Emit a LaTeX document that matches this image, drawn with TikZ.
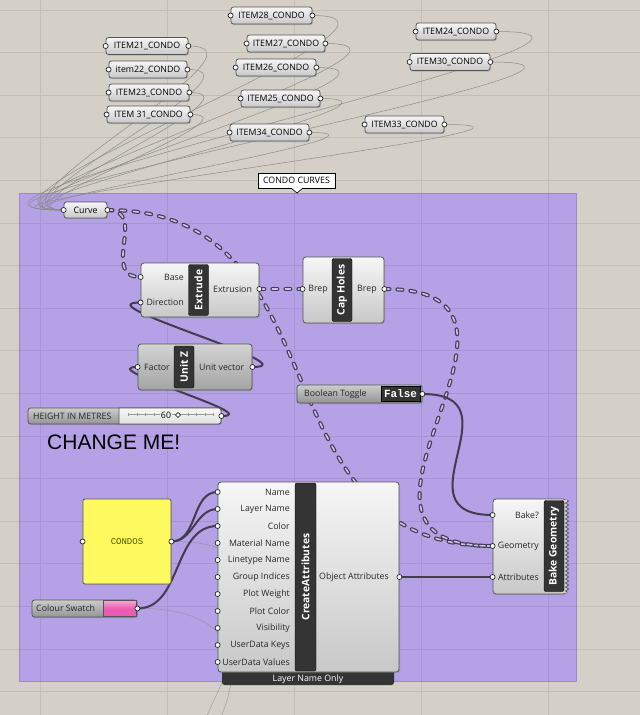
\documentclass[tikz,border=0pt]{standalone}
\usepackage{fontspec}
\setmainfont{Open Sans}
\newfontfamily\arialfont{Liberation Sans}
\newfontfamily\monofont{Liberation Mono}
\usetikzlibrary{positioning,shadows,decorations.pathmorphing}
\definecolor{paper}{RGB}{212,208,200}
\definecolor{grp}{RGB}{181,161,229}
\definecolor{grpedge}{RGB}{155,136,210}
\definecolor{wire}{RGB}{66,60,78}
\definecolor{wirein}{RGB}{205,192,240}
\definecolor{rim}{RGB}{85,85,88}
\definecolor{stripcol}{RGB}{52,52,52}
\definecolor{pale}{RGB}{246,246,246}
\definecolor{dull}{RGB}{200,200,200}
\definecolor{panelcol}{RGB}{255,249,96}
\definecolor{olivetext}{RGB}{70,95,0}
\definecolor{swatchcol}{RGB}{236,92,178}
\pgfdeclarelayer{back}
\pgfdeclarelayer{wires}
\pgfsetlayers{back,wires,main}
\begin{document}
\begin{tikzpicture}[
x=1pt,y=-1pt,
small/.style={font=\fontsize{8.8}{10}\selectfont},
param/.style={draw=rim,line width=0.8pt,rounded corners=2.5pt,top color=pale,bottom color=dull,minimum height=17pt,inner sep=2pt,small,drop shadow={shadow xshift=1pt,shadow yshift=-1.2pt,opacity=.35}},
body/.style={param,rounded corners=3pt},
darkbody/.style={body,top color=black!17,bottom color=black!36},
dark/.style={param,top color=black!20,bottom color=black!42},
strip/.style={fill=stripcol,draw=black,rounded corners=2pt,text=white,rotate=90,font=\bfseries\fontsize{10.3}{11}\selectfont,minimum height=20pt,inner sep=0pt},
grip/.style={circle,draw=black!85,fill=white,line width=0.7pt,inner sep=0pt,minimum size=5pt},
inlab/.style={anchor=east,small,inner sep=0pt,text=black!85},
outlab/.style={anchor=west,small,inner sep=0pt,text=black!85},
line/.style={draw=wire,line width=2pt},
list/.style={draw=wire,line width=1.2pt,double=wirein,double distance=1.6pt,dash pattern=on 5pt off 8pt,line cap=round},
thread/.style={draw=black!45,line width=0.5pt},
faint/.style={draw=black!45,line width=0.5pt,opacity=.7}
]

\useasboundingbox (0,0) rectangle (640,715);

%canvas and group
\begin{pgfonlayer}{back}
\fill[paper] (0,0) rectangle (640,715);
\path[draw=grpedge,fill=grp,line width=0.8pt] (19,193) rectangle (576,681);
\begin{scope}[shift={(40,10)}]
\draw[black,opacity=.08,line width=0.8pt,xstep=127pt,ystep=42.6pt] (-40,-10) grid (600,705);
\end{scope}
\end{pgfonlayer}

\node[draw=black,fill=white,line width=0.6pt,minimum width=77pt,minimum height=15pt,inner sep=0pt,small] (tag) at (296.5,180.5) {CONDO CURVES};
\path[fill=white] (291,187.4) -- (297,193) -- (303,187.4) -- cycle;
\draw[line width=0.6pt] (291,188) -- (297,193) -- (303,188);

%items
\node[param,minimum width=81pt] (i28) at (271.5,15.5) {ITEM28\_CONDO};
\node[param,minimum width=78pt] (i27) at (286,43.5) {ITEM27\_CONDO};
\node[param,minimum width=82pt] (i21) at (147,46) {ITEM21\_CONDO};
\node[param,minimum width=78pt] (i22) at (148,69.5) {item22\_CONDO};
\node[param,minimum width=80pt] (i26) at (276,67.5) {ITEM26\_CONDO};
\node[param,minimum width=80pt] (i23) at (149,92.5) {ITEM23\_CONDO};
\node[param,minimum width=83pt] (i31) at (148.5,114.5) {ITEM 31\_CONDO};
\node[param,minimum width=79pt] (i25) at (280.5,98.5) {ITEM25\_CONDO};
\node[param,minimum width=79pt] (i34) at (269.5,132.5) {ITEM34\_CONDO};
\node[param,minimum width=79pt] (i33) at (404.5,124.5) {ITEM33\_CONDO};
\node[param,minimum width=80pt] (i24) at (456,31.5) {ITEM24\_CONDO};
\node[param,minimum width=80pt] (i30) at (450,62) {ITEM30\_CONDO};
	\node[grip] (i28a) at (i28.west) {}; \node[grip] (i28b) at (i28.east) {};
	\node[grip] (i27a) at (i27.west) {}; \node[grip] (i27b) at (i27.east) {};
	\node[grip] (i21a) at (i21.west) {}; \node[grip] (i21b) at (i21.east) {};
	\node[grip] (i22a) at (i22.west) {}; \node[grip] (i22b) at (i22.east) {};
	\node[grip] (i26a) at (i26.west) {}; \node[grip] (i26b) at (i26.east) {};
	\node[grip] (i23a) at (i23.west) {}; \node[grip] (i23b) at (i23.east) {};
	\node[grip] (i31a) at (i31.west) {}; \node[grip] (i31b) at (i31.east) {};
	\node[grip] (i25a) at (i25.west) {}; \node[grip] (i25b) at (i25.east) {};
	\node[grip] (i34a) at (i34.west) {}; \node[grip] (i34b) at (i34.east) {};
	\node[grip] (i33a) at (i33.west) {}; \node[grip] (i33b) at (i33.east) {};
	\node[grip] (i24a) at (i24.west) {}; \node[grip] (i24b) at (i24.east) {};
	\node[grip] (i30a) at (i30.west) {}; \node[grip] (i30b) at (i30.east) {};

%curve
\node[param,minimum width=43pt,minimum height=16pt] (cv) at (85.5,210) {Curve};
	\node[grip] (cvin) at (cv.west) {};
	\node[grip] (cvout) at (cv.east) {};

%extrude
\node[body,minimum width=118pt,minimum height=54pt] (ex) at (200,290) {};
	\node[strip,minimum width=51pt] (exs) at (198.5,290) {Extrude};
	\node[inlab] (exbl) at (184,277) {Base};
	\node[inlab] (exdl) at (184,302.5) {Direction};
	\node[outlab] (exol) at (213,289) {Extrusion};
	\node[grip] (exbase) at (ex.west |- exbl) {};
	\node[grip] (exdir) at (ex.west |- exdl) {};
	\node[grip] (exout) at (ex.east |- exol) {};

%cap holes
\node[body,minimum width=81pt,minimum height=66pt] (ch) at (343.5,290) {};
	\node[strip,minimum width=63pt] (chs) at (342,290) {Cap Holes};
	\node[inlab] (chil) at (328,289) {Brep};
	\node[outlab] (chol) at (357,289) {Brep};
	\node[grip] (chin) at (ch.west |- chil) {};
	\node[grip] (chout) at (ch.east |- chol) {};

%unit z
\node[darkbody,minimum width=114pt,minimum height=46pt] (uz) at (195,367) {};
	\node[strip,minimum width=42pt] (uzs) at (184,367) {Unit Z};
	\node[inlab] (uzfl) at (170,367) {Factor};
	\node[outlab] (uzol) at (199,367) {Unit vector};
	\node[grip] (uzin) at (uz.west |- uzfl) {};
	\node[grip] (uzout) at (uz.east |- uzol) {};

%slider
\node[dark,minimum width=193pt,minimum height=16pt] (sl) at (124.5,416) {};
\path[draw=rim,line width=0.8pt,top color=pale,bottom color=black!12] (119,408) [rounded corners=2.5pt] -- (221,408) -- (221,424) [sharp corners] -- (119,424) -- cycle;
\path[draw=black!40,line width=0.5pt] (128,414.5) -- (214,414.5);
\path[draw=black!40,line width=3pt,dash pattern=on 0.5pt off 8pt] (128,414.5) -- (214,414.5);
	\node[small,anchor=west,inner sep=0pt,text=black!85] (sllab) at (33,416) {HEIGHT IN METRES};
	\node[small,fill=black!7,inner sep=1pt] (slval) at (166,415) {60};
	\path[draw=black,fill=white,line width=0.6pt] (175.5,415) -- (178,412.5) -- (180.5,415) -- (178,417.5) -- cycle;
	\node[grip] (slout) at (sl.east) {};

\node[font=\arialfont\fontsize{21}{24}\selectfont,anchor=base west,inner sep=0pt] (chg) at (47,449) {CHANGE ME!};

%toggle
\node[dark,minimum width=125pt,minimum height=18pt] (bt) at (359.5,394) {};
	\node[small,anchor=west,inner sep=0pt,text=black!85] (btl) at (304,394) {Boolean Toggle};
	\node[fill=stripcol,draw=black,minimum width=39pt,minimum height=15pt,inner sep=0pt,text=white,font=\monofont\bfseries\fontsize{11}{12}\selectfont] (btv) at (400.5,394) {False};
	\node[grip] (btout) at (bt.east) {};

%panel and swatch
\node[draw=rim,line width=0.8pt,fill=panelcol,rounded corners=2pt,minimum width=88pt,minimum height=85pt,text=olivetext,font=\monofont\fontsize{9}{10}\selectfont,drop shadow={shadow xshift=1pt,shadow yshift=-1.2pt,opacity=.35}] (cd) at (127,541.5) {CONDOS};
	\node[grip] (cdin) at (cd.west) {};
	\node[grip] (cdout) at (cd.east) {};
\node[dark,minimum width=105pt,minimum height=17pt] (cs) at (84.5,608.5) {};
	\node[small,anchor=west,inner sep=0pt,text=black!85] (csl) at (36,608.5) {Colour Swatch};
	\node[draw=rim,line width=0.6pt,top color=swatchcol!55!white,bottom color=swatchcol,middle color=swatchcol,minimum width=33pt,minimum height=15.5pt,inner sep=0pt] (csv) at (119.5,608.5) {};
	\node[grip] (csout) at (cs.east) {};

%create attributes
\node[fill=stripcol,rounded corners=2.5pt,minimum width=172pt,minimum height=20pt] (catab) at (308,675) {};
\node[body,minimum width=181pt,minimum height=190pt] (ca) at (308.5,577) {};
	\node[text=white,small,inner sep=0pt] (catabl) at (308,679.5) {Layer Name Only};
	\node[strip,minimum width=188pt,minimum height=21pt] (cas) at (305.5,577) {CreateAttributes};
	\node[inlab] (ca1) at (290,492) {Name};
	\node[inlab] (ca2) at (290,509) {Layer Name};
	\node[inlab] (ca3) at (290,526) {Color};
	\node[inlab] (ca4) at (290,543) {Material Name};
	\node[inlab] (ca5) at (290,560) {Linetype Name};
	\node[inlab] (ca6) at (290,577) {Group Indices};
	\node[inlab] (ca7) at (290,594) {Plot Weight};
	\node[inlab] (ca8) at (290,611) {Plot Color};
	\node[inlab] (ca9) at (290,628) {Visibility};
	\node[inlab] (ca10) at (290,645) {UserData Keys};
	\node[inlab] (ca11) at (290,662) {UserData Values};
	\node[outlab] (caol) at (319,577) {Object Attributes};
	\node[grip] (caname) at (ca.west |- ca1) {};
	\node[grip] (calayer) at (ca.west |- ca2) {};
	\node[grip] (cacolor) at (ca.west |- ca3) {};
	\node[grip] (camat) at (ca.west |- ca4) {};
	\node[grip] (caline) at (ca.west |- ca5) {};
	\node[grip] (cagroup) at (ca.west |- ca6) {};
	\node[grip] (caweight) at (ca.west |- ca7) {};
	\node[grip] (caplot) at (ca.west |- ca8) {};
	\node[grip] (cavis) at (ca.west |- ca9) {};
	\node[grip] (cakeys) at (ca.west |- ca10) {};
	\node[grip] (cavals) at (ca.west |- ca11) {};
	\node[grip] (caout) at (ca.east |- caol) {};

%bake
\node[body,minimum width=73pt,minimum height=95pt] (bk) at (529.5,546.5) {};
\path[fill=black!17,decoration={zigzag,segment length=4pt,amplitude=1.6pt}] (561,500) -- (567,500) decorate {-- (567,593)} -- (561,593) -- cycle;
\path[draw=rim,line width=0.7pt,decoration={zigzag,segment length=4pt,amplitude=1.6pt}] (567,500) decorate {-- (567,593)};
	\node[strip,minimum width=91pt] (bks) at (554,546) {Bake Geometry};
	\node[inlab] (bkl1) at (539,515) {Bake?};
	\node[inlab] (bkl2) at (539,546) {Geometry};
	\node[inlab] (bkl3) at (539,577) {Attributes};
	\node[grip] (bkbake) at (bk.west |- bkl1) {};
	\node[grip] (bkgeo) at (bk.west |- bkl2) {};
	\node[grip] (bkattr) at (bk.west |- bkl3) {};

\coordinate (offa) at (196,740);
\coordinate (offb) at (206,745);

%wires
\begin{pgfonlayer}{wires}
\path[thread] (i28b.center) to[out=0,in=180,looseness=1.2] (cvin.center);
\path[thread] (i27b.center) to[out=0,in=180,looseness=1.2] (cvin.center);
\path[thread] (i21b.center) to[out=0,in=180,looseness=1.2] (cvin.center);
\path[thread] (i22b.center) to[out=0,in=180,looseness=1.2] (cvin.center);
\path[thread] (i26b.center) to[out=0,in=180,looseness=1.2] (cvin.center);
\path[thread] (i23b.center) to[out=0,in=180,looseness=1.2] (cvin.center);
\path[thread] (i31b.center) to[out=0,in=180,looseness=1.2] (cvin.center);
\path[thread] (i25b.center) to[out=0,in=180,looseness=1.2] (cvin.center);
\path[thread] (i34b.center) to[out=0,in=180,looseness=1.2] (cvin.center);
\path[thread] (i33b.center) to[out=0,in=180,looseness=1.2] (cvin.center);
\path[thread] (i24b.center) to[out=0,in=180,looseness=1.2] (cvin.center);
\path[thread] (i30b.center) to[out=0,in=180,looseness=1.2] (cvin.center);

\path[faint] (cdout.center) .. controls (300,541) and (240,640) .. (offa);
\path[faint] (csout.center) .. controls (235,607) and (255,665) .. (offb);

\path[list] (cvout.center) to[out=0,in=180,looseness=1.4] (exbase.center);
\path[list] (cvout.center) to[out=0,in=180,looseness=1.2] (bkgeo.center);
\path[list] (exout.center) -- (chin.center);
\path[list] (chout.center) to[out=0,in=180,looseness=1.8] (bkgeo.center);

\path[line] (slout.center) to[out=0,in=180,looseness=1.2] (uzin.center);
\path[line] (uzout.center) to[out=0,in=180,looseness=1.2] (exdir.center);
\path[line] (btout.center) to[out=0,in=180,looseness=1.8] (bkbake.center);
\path[line] (caout.center) -- (bkattr.center);
\path[line] (cdout.center) to[out=0,in=180] (caname.center);
\path[line] (cdout.center) to[out=0,in=180] (calayer.center);
\path[line] (csout.center) to[out=0,in=180] (cacolor.center);
\end{pgfonlayer}

\end{tikzpicture}
\end{document}
